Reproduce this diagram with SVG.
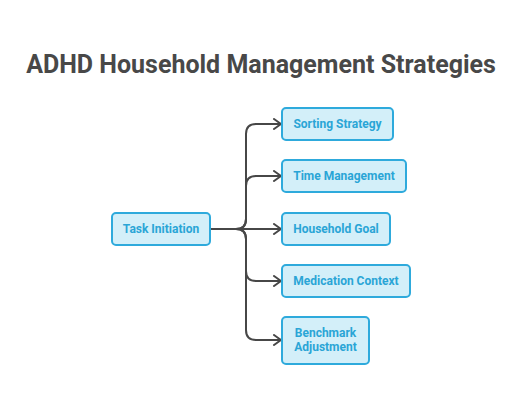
<svg xmlns="http://www.w3.org/2000/svg" width="522" height="419" viewBox="0 0 522 419">
<style>
.node rect{fill:#d3eff9;stroke:#2eaadc;stroke-width:2}
.node text{font-family:Roboto,"Liberation Sans",sans-serif;font-weight:bold;font-size:12px;fill:#2aa5d6;text-anchor:middle}
.conn path{fill:none;stroke:#474747;stroke-width:2;stroke-linecap:round;stroke-linejoin:round}
.title{font-family:Roboto,"Liberation Sans",sans-serif;font-weight:bold;font-size:25px;fill:#484848;text-anchor:middle}
</style>
<defs>
<marker id="arr" viewBox="0 0 12 12" refX="10" refY="6" markerWidth="12" markerHeight="12" markerUnits="userSpaceOnUse" orient="auto">
<path d="M3,1 L10,6 L3,11" fill="none" stroke="#474747" stroke-width="2" stroke-linecap="round" stroke-linejoin="round"/>
</marker>
</defs>
<rect width="522" height="419" fill="#ffffff"/>
<text class="title" x="261" y="73">ADHD Household Management Strategies</text>
<g class="conn">
<path d="M210,229 H236 Q246,229 246,219 V134 Q246,124 256,124 H281" marker-end="url(#arr)"/>
<path d="M210,229 H236 Q246,229 246,219 V186 Q246,176 256,176 H281" marker-end="url(#arr)"/>
<path d="M210,229 H281" marker-end="url(#arr)"/>
<path d="M210,229 H236 Q246,229 246,239 V271 Q246,281 256,281 H281" marker-end="url(#arr)"/>
<path d="M210,229 H236 Q246,229 246,239 V330 Q246,340 256,340 H281" marker-end="url(#arr)"/>
</g>
<g id="task-initiation" class="node"><rect x="112" y="213" width="98" height="32" rx="4"/><text x="161" y="233">Task Initiation</text></g>
<g id="sorting-strategy" class="node"><rect x="282" y="108" width="111" height="32" rx="4"/><text x="337.5" y="128">Sorting Strategy</text></g>
<g id="time-management" class="node"><rect x="282" y="160" width="124" height="32" rx="4"/><text x="344" y="180">Time Management</text></g>
<g id="household-goal" class="node"><rect x="282" y="213" width="108" height="32" rx="4"/><text x="336" y="233">Household Goal</text></g>
<g id="medication-context" class="node"><rect x="282" y="265" width="128" height="32" rx="4"/><text x="346" y="285">Medication Context</text></g>
<g id="benchmark-adjustment" class="node"><rect x="282" y="317" width="87" height="47" rx="4"/><text x="325.5" y="337">Benchmark</text><text x="325.5" y="351">Adjustment</text></g>
</svg>
